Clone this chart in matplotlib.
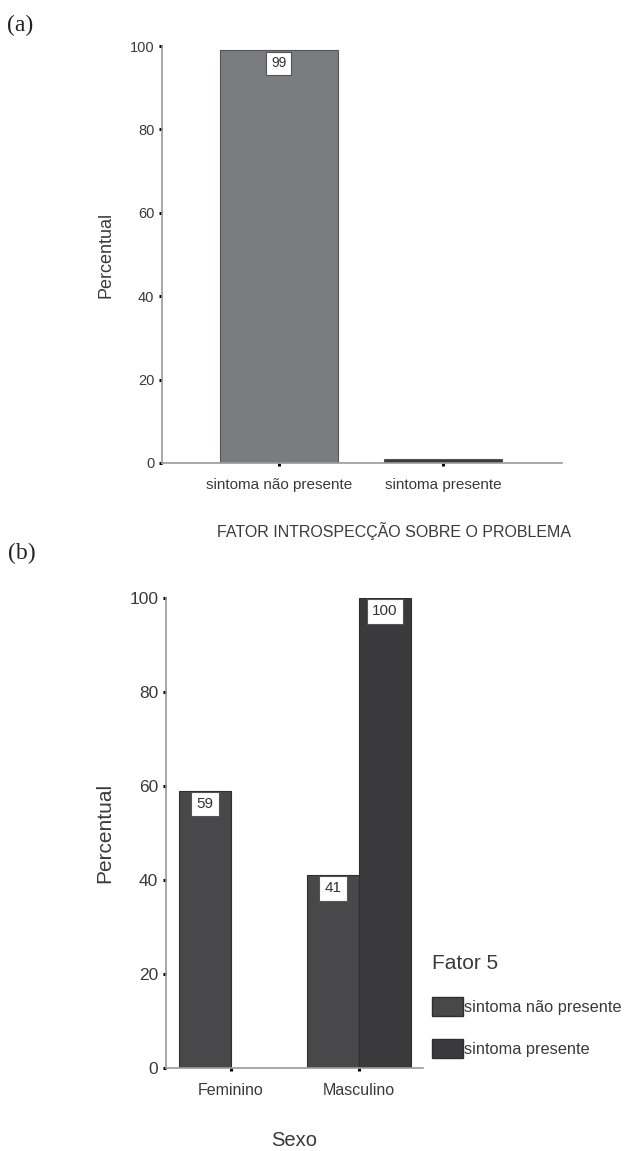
import numpy as np
import matplotlib.pyplot as plt
from matplotlib.patches import Patch

plt.rcParams['font.family'] = ['Liberation Sans', 'DejaVu Sans']

# panel (a): fator introspecção sobre o problema
cats_a = ['sintoma não presente', 'sintoma presente']
vals_a = [99, 1]
labels_a = ['99', None]

# panel (b): sexo x fator 5
cats_b = ['Feminino', 'Masculino']
series_b = ['sintoma não presente', 'sintoma presente']
nao_presente_b = [59, 41]
presente_b = [0, 100]
yticks = [0, 20, 40, 60, 80, 100]

W, H = 632, 1151
fig = plt.figure(figsize=(W/100, H/100), dpi=100)

def px_axes(left, top, right, bottom):
    "axes from pixel box (image coords)"
    return fig.add_axes([left/W, (H-bottom)/H, (right-left)/W, (bottom-top)/H])

def style_axes(ax, tick_size):
    for s in ['top', 'right']:
        ax.spines[s].set_visible(False)
    for s in ['left', 'bottom']:
        ax.spines[s].set_color('#9a9a9a')
        ax.spines[s].set_linewidth(1.2)
    ax.tick_params(length=2.5, width=2.2, color='black', labelsize=tick_size,
                   labelcolor='#3a3a3a')
    ax.tick_params(axis='y', pad=3)
    ax.tick_params(axis='x', pad=8)

def value_box(ax, x, y, txt, size):
    ax.annotate(txt, xy=(x, y), xytext=(0, -9.5), textcoords='offset points',
                ha='center', va='center', fontsize=size, color='#333333',
                bbox=dict(boxstyle='square,pad=0.35', fc='white', ec='#555555', lw=0.8))

# ---- (a)
ax1 = px_axes(162, 46, 562, 463)
x_a = np.arange(len(cats_a))
cols_a = ['#7b7c80', '#3a3a3d']
ax1.bar(x_a, vals_a, width=0.72, color=cols_a, edgecolor='#555555', linewidth=0.8)
for xi, v, lab in zip(x_a, vals_a, labels_a):
    if lab:
        value_box(ax1, xi, v, lab, 10)
ax1.set_xlim(-0.713, 1.726)
ax1.set_ylim(0, 100)
ax1.set_yticks(yticks)
ax1.set_xticks(x_a)
ax1.set_xticklabels(cats_a)
style_axes(ax1, 10.5)
ax1.tick_params(axis='x', labelsize=11)
ax1.set_ylabel('Percentual', fontsize=13, color='#3a3a3a')
ax1.yaxis.set_label_coords(-0.12, 0.5)
ax1.set_xlabel('FATOR INTROSPECÇÃO SOBRE O PROBLEMA', fontsize=11.5, color='#3a3a3a')
ax1.xaxis.set_label_coords(0.58, -0.142)

# ---- (b)
ax2 = px_axes(166, 598, 423, 1068)
x_b = np.arange(len(cats_b))
w = 0.406
ax2.bar(x_b - w/2, nao_presente_b, width=w, color='#48484b', edgecolor='#2e2e2e',
        linewidth=0.8, label=series_b[0])
ax2.bar(x_b + w/2, presente_b, width=w, color='#3a3a3d', edgecolor='#2e2e2e',
        linewidth=0.8, label=series_b[1])
for xs, vs in [(x_b - w/2, nao_presente_b), (x_b + w/2, presente_b)]:
    for xi, v in zip(xs, vs):
        if v > 0:
            value_box(ax2, xi, v, str(v), 11)
ax2.set_xlim(-0.508, 1.5)
ax2.set_ylim(0, 100)
ax2.set_yticks(yticks)
ax2.set_xticks(x_b)
ax2.set_xticklabels(cats_b)
style_axes(ax2, 12.5)
ax2.tick_params(axis='x', labelsize=11.5)
ax2.set_ylabel('Percentual', fontsize=15, color='#3a3a3a')
ax2.yaxis.set_label_coords(-0.2, 0.5)
ax2.set_xlabel('Sexo', fontsize=14.5, color='#3a3a3a')
ax2.xaxis.set_label_coords(0.5, -0.135)

handles = [Patch(facecolor='#48484b', edgecolor='#2e2e2e', label=series_b[0]),
           Patch(facecolor='#3a3a3d', edgecolor='#2e2e2e', label=series_b[1])]
leg = ax2.legend(handles=handles, title='Fator 5', loc='upper left',
                 bbox_to_anchor=(432/W, (H-954)/H), bbox_transform=fig.transFigure,
                 frameon=False, fontsize=11.8, title_fontsize=15, alignment='left',
                 handlelength=1.9, handleheight=1.4, handletextpad=0.05,
                 labelspacing=1.45, borderpad=0, borderaxespad=0)
for t in leg.get_texts():
    t.set_color('#3a3a3a')
leg.get_title().set_color('#3a3a3a')

# panel letters
fig.text(7/W, 1 - 25/H, '(a)', fontsize=17, family='Liberation Serif', va='center', color='#222222')
fig.text(8/W, 1 - 553/H, '(b)', fontsize=17, family='Liberation Serif', va='center', color='#222222')

fig.savefig('out.png', dpi=100)
